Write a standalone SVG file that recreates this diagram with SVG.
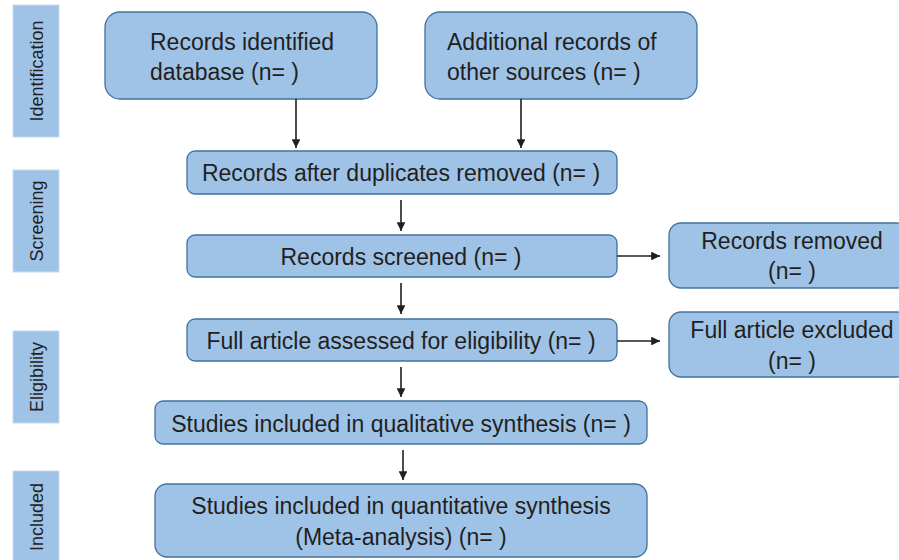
<svg xmlns="http://www.w3.org/2000/svg" width="899" height="560" viewBox="0 0 899 560">
<style>
.side{fill:#9fc3e7;stroke:#c5dbf0;stroke-width:1}
.box{fill:#9fc3e7;stroke:#41719c;stroke-width:1.3}
.t{font-family:"Liberation Sans",Arial,sans-serif;font-size:23px;fill:#231f20}
.s{font-family:"Liberation Sans",Arial,sans-serif;font-size:18px;fill:#231f20}
.c{text-anchor:middle}
.arr{stroke:#231f20;stroke-width:1.6;fill:none;marker-end:url(#ah)}
</style>
<defs>
<marker id="ah" viewBox="0 0 10 10" refX="10" refY="5" markerWidth="5.5" markerHeight="5.5" markerUnits="strokeWidth" orient="auto">
<path d="M0,0 L10,5 L0,10 z" fill="#231f20"/>
</marker>
</defs>
<g id="stage-identification"><rect class="side" x="13" y="5" width="46" height="132"/><text class="s c" transform="translate(43,71) rotate(-90)">Identification</text></g>
<g id="stage-screening"><rect class="side" x="13" y="170" width="46" height="102"/><text class="s c" transform="translate(43,221) rotate(-90)">Screening</text></g>
<g id="stage-eligibility"><rect class="side" x="13" y="331" width="46" height="92"/><text class="s c" transform="translate(43,377) rotate(-90)">Eligibility</text></g>
<g id="stage-included"><rect class="side" x="13" y="471" width="46" height="95"/><text class="s c" transform="translate(43,517) rotate(-90)">Included</text></g>

<g id="n1"><rect class="box" x="105" y="12" width="272" height="87" rx="15"/><text class="t" x="150" y="50">Records identified</text><text class="t" x="150" y="80">database (n= )</text></g>
<g id="n2"><rect class="box" x="425" y="12" width="272" height="87" rx="15"/><text class="t" x="447" y="50">Additional records of</text><text class="t" x="447" y="80">other sources (n= )</text></g>
<g id="n3"><rect class="box" x="187" y="151" width="430" height="43" rx="8"/><text class="t c" x="401" y="181">Records after duplicates removed (n= )</text></g>
<g id="n4"><rect class="box" x="187" y="235" width="430" height="42" rx="8"/><text class="t c" x="401" y="265">Records screened (n= )</text></g>
<g id="n5"><rect class="box" x="669" y="223" width="240" height="65" rx="12"/><text class="t c" x="792" y="249">Records removed</text><text class="t c" x="792" y="279">(n= )</text></g>
<g id="n6"><rect class="box" x="187" y="319" width="430" height="42" rx="8"/><text class="t c" x="401" y="349">Full article assessed for eligibility (n= )</text></g>
<g id="n7"><rect class="box" x="669" y="312" width="240" height="65" rx="12"/><text class="t c" x="792" y="338">Full article excluded</text><text class="t c" x="792" y="369">(n= )</text></g>
<g id="n8"><rect class="box" x="155" y="401" width="492" height="43" rx="8"/><text class="t c" x="401" y="432">Studies included in qualitative synthesis (n= )</text></g>
<g id="n9"><rect class="box" x="155" y="484" width="492" height="73" rx="12"/><text class="t c" x="401" y="514">Studies included in quantitative synthesis</text><text class="t c" x="401" y="545">(Meta-analysis) (n= )</text></g>

<g id="connectors">
<line class="arr" x1="296" y1="99" x2="296" y2="148"/>
<line class="arr" x1="521" y1="99" x2="521" y2="148"/>
<line class="arr" x1="401" y1="200" x2="401" y2="231"/>
<line class="arr" x1="401" y1="283" x2="401" y2="314"/>
<line class="arr" x1="401" y1="367" x2="401" y2="397"/>
<line class="arr" x1="403" y1="450" x2="403" y2="480"/>
<line class="arr" x1="617" y1="256" x2="660" y2="256"/>
<line class="arr" x1="617" y1="341" x2="660" y2="341"/>
</g>
</svg>
